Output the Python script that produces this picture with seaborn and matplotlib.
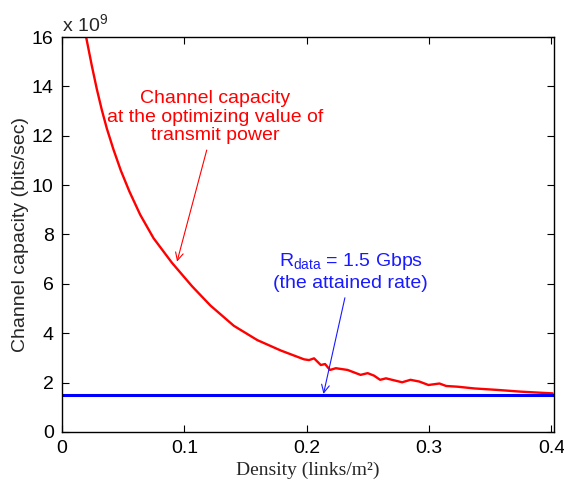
import matplotlib
matplotlib.use("Agg")
import matplotlib.pyplot as plt
import seaborn as sns
import pandas as pd

# Channel capacity (in units of 1e9 bits/sec) vs density (links/m^2)
density = [0.0197, 0.0243, 0.0284, 0.0325, 0.0366, 0.042, 0.048, 0.055,
           0.0639, 0.0748, 0.0899, 0.1063, 0.1213, 0.1404, 0.1596, 0.1787,
           0.1978, 0.2019, 0.206, 0.2115, 0.215, 0.219, 0.2238, 0.2334, 0.244,
           0.2498, 0.255, 0.260, 0.2648, 0.278, 0.2848, 0.292, 0.2995, 0.3085,
           0.314, 0.3235, 0.337, 0.356, 0.375, 0.401]
capacity = [16.0, 14.85, 13.9, 13.05, 12.3, 11.45, 10.6, 9.75,
            8.8, 7.85, 6.85, 5.9, 5.12, 4.3, 3.72, 3.3,
            2.94, 2.91, 2.98, 2.71, 2.75, 2.51, 2.58, 2.51, 2.31,
            2.38, 2.28, 2.11, 2.17, 2.01, 2.11, 2.04, 1.90, 1.96,
            1.86, 1.83, 1.76, 1.70, 1.63, 1.56]
rate_x = [0.0, 0.402]
rate_y = [1.5, 1.5]
yticks = [0, 2, 4, 6, 8, 10, 12, 14, 16]
xticks = [0, 0.1, 0.2, 0.3, 0.4]
xticklabels = ["0", "0.1", "0.2", "0.3", "0.4"]

sns.set_style("ticks")
plt.rcParams['font.family'] = ['Liberation Sans', 'DejaVu Sans']
plt.rcParams['mathtext.fontset'] = 'custom'
plt.rcParams['mathtext.rm'] = 'Liberation Sans'
plt.rcParams['mathtext.it'] = 'Liberation Sans:italic'

fig = plt.figure(figsize=(5.64, 4.82), dpi=100)
ax = fig.add_axes([0.110, 0.104, 0.872, 0.819])

df_cap = pd.DataFrame({"x": density, "y": capacity})
df_rate = pd.DataFrame({"x": rate_x, "y": rate_y})
sns.lineplot(data=df_cap, x="x", y="y", ax=ax, color="#ff0000", linewidth=1.7,
             sort=False, estimator=None)
sns.lineplot(data=df_rate, x="x", y="y", ax=ax, color="#0000ff", linewidth=2.2,
             sort=False, estimator=None)

ax.set_xlim(0, 0.402)
ax.set_ylim(0, 16)
ax.set_xticks(xticks)
ax.set_xticklabels(xticklabels)
ax.set_yticks(yticks)
ax.tick_params(direction="in", top=True, right=True, labelsize=14, length=5,
               width=0.8, colors="black", pad=6)
for s in ax.spines.values():
    s.set_visible(True)
    s.set_linewidth(1.0)
    s.set_color("black")

ax.set_xlabel("Density (links/m²)", fontsize=14, family=['Liberation Serif'], labelpad=3)
ax.set_ylabel("Channel capacity (bits/sec)", fontsize=14, labelpad=2)

ax.text(0.0, 1.015, r"x 10$^{9}$", transform=ax.transAxes, fontsize=14,
        ha="left", va="baseline")

ax.annotate("Channel capacity\nat the optimizing value of\ntransmit power",
            xy=(0.094, 6.9), xytext=(0.1254, 12.75), ha="center", va="center",
            color="#ff0000", fontsize=14, linespacing=1.1,
            arrowprops=dict(arrowstyle="->", color="#ff0000", lw=0.8,
                            shrinkA=2, shrinkB=0, mutation_scale=14))

ax.annotate("R$_{\\mathrm{data}}$ = 1.5 Gbps\n(the attained rate)",
            xy=(0.2137, 1.54), xytext=(0.236, 6.5), ha="center", va="center",
            color="#1a1aff", fontsize=14, linespacing=1.2,
            arrowprops=dict(arrowstyle="->", color="#1a1aff", lw=0.8,
                            shrinkA=2, shrinkB=0, mutation_scale=14))

fig.savefig("out.png", dpi=100)
